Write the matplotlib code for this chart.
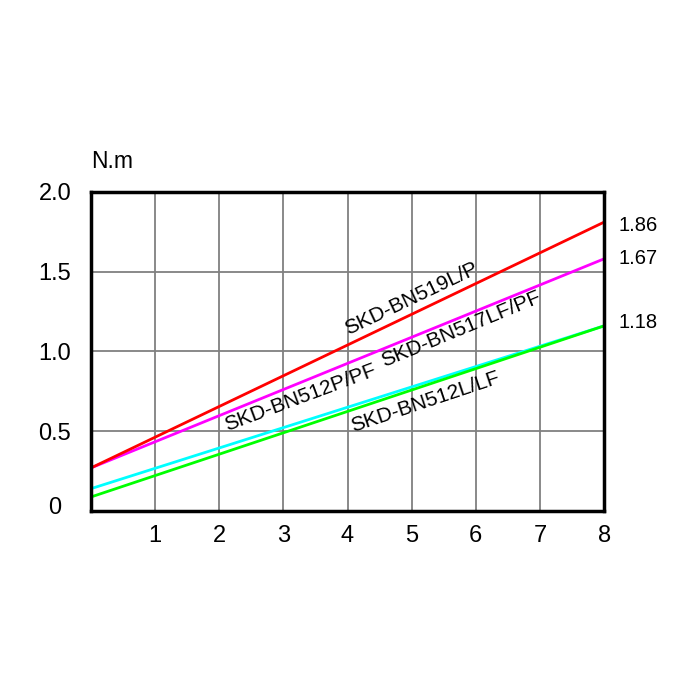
import numpy as np
import matplotlib.pyplot as plt
import matplotlib.transforms as mtransforms

plt.rcParams['font.family'] = ['Liberation Sans', 'DejaVu Sans']

# speed (x) vs torque N.m
x = [0, 8]
red = [0.27, 1.81]
magenta = [0.27, 1.58]
cyan = [0.14, 1.16]
green = [0.088, 1.16]

end_labels = ['1.86', '1.67', '1.18']
end_y = [1.79, 1.58, 1.18]

names = ['SKD-BN519L/P', 'SKD-BN517LF/PF', 'SKD-BN512P/PF', 'SKD-BN512L/LF']
name_x = [5.0, 5.77, 3.26, 5.21]
name_y = [1.33, 1.14, 0.71, 0.68]
name_rot = [25.5, 22.5, 20.5, 18.5]

fig = plt.figure(figsize=(7, 7), dpi=100)
ax = fig.add_axes([0.13, 0.27, 0.733, 0.456])

ax.plot(x, cyan, color='#00ffff', lw=2)
ax.plot(x, green, color='#00ff00', lw=2)
ax.plot(x, magenta, color='#ff00ff', lw=2)
ax.plot(x, red, color='#ff0000', lw=2)

ax.set_xlim(0, 8)
ax.set_ylim(0, 2)
ax.set_xticks(range(0, 9))
ax.set_xticklabels([''] + [str(i) for i in range(1, 9)])
ax.set_yticks([0, 0.5, 1.0, 1.5, 2.0])
ax.set_yticklabels(['0', '0.5', '1.0', '1.5', '2.0'])
ax.tick_params(length=0, labelsize=17, pad=10)
ax.tick_params(axis='y', pad=26)
for lab in ax.get_yticklabels():
    lab.set_horizontalalignment('center')
# the "0" sits a little above the bottom line
zero = ax.get_yticklabels()[0]
zero.set_transform(zero.get_transform() +
                   mtransforms.ScaledTranslation(0, 6 / 100, fig.dpi_scale_trans))
ax.grid(True, color='#808080', lw=1.3)
for s in ax.spines.values():
    s.set_linewidth(2.5)

for t, yy in zip(end_labels, end_y):
    ax.text(8.22, yy, t, fontsize=14.5, va='center', ha='left')

for t, xx, yy, r in zip(names, name_x, name_y, name_rot):
    ax.text(xx, yy, t, fontsize=15, rotation=r, ha='center', va='center',
            rotation_mode='anchor')

ax.text(0, 2.19, 'N.m', fontsize=16.5, ha='left', va='center')

plt.savefig('out.png')
